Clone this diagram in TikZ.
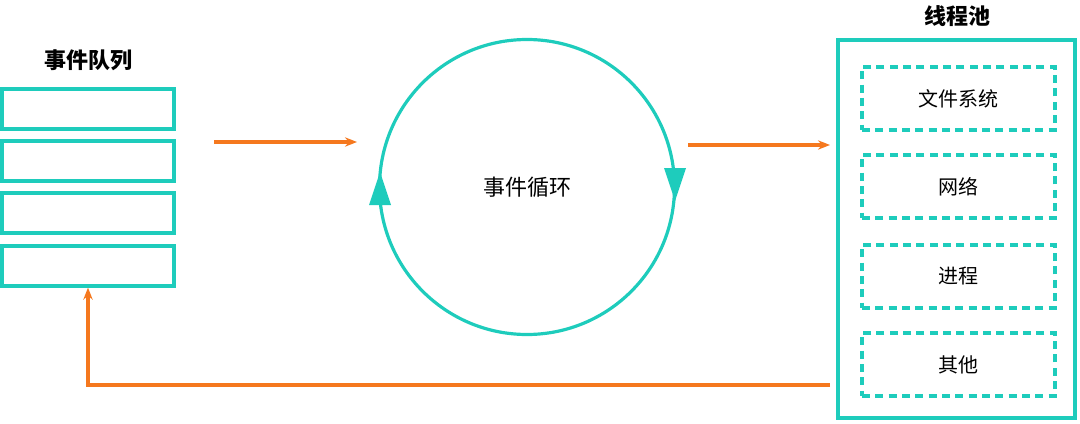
\documentclass[tikz,border=0pt]{standalone}
\usepackage{fontspec}
\setmainfont{Noto Sans CJK SC}
\usetikzlibrary{arrows.meta}
\definecolor{teal1}{RGB}{30,204,188}
\definecolor{org}{RGB}{245,120,30}
\tikzset{qbox/.style={draw=teal1,line width=3.2pt*0.75,minimum width=172*0.75pt,minimum height=40*0.75pt,inner sep=0pt},
dbox/.style={draw=teal1,line width=3.2pt*0.75,dash pattern=on 6pt off 4pt,minimum width=193*0.75pt,minimum height=63*0.75pt,inner sep=0pt,font=\fontsize{15}{18}\selectfont},
flow/.style={draw=org,line width=3.2pt*0.75,-{Stealth[length=9pt,width=7pt]}},
ttl/.style={font=\fontsize{16.5}{20}\selectfont\bfseries}}
\begin{document}
\begin{tikzpicture}[x=0.75pt,y=-0.75pt]
\useasboundingbox (0,0) rectangle (1080,424);
\node[ttl] (qt) at (88,60) {事件队列};
\node[qbox] (q1) at (88,109) {};
\node[qbox] (q2) at (88,161) {};
\node[qbox] (q3) at (88,213) {};
\node[qbox] (q4) at (88,266) {};
\coordinate (a1s) at (214,142);
\coordinate (a1e) at (357,142);
\draw[flow] (a1s) -- (a1e);
\node[circle,draw=teal1,line width=3.2pt*0.75,minimum size=295*0.75pt,font=\fontsize{16.5}{20}\selectfont] (loop) at (527,187) {事件循环};
\fill[teal1] (369,205) -- (391,205) -- (380,172) -- cycle;
\fill[teal1] (664,168) -- (686,168) -- (675,201) -- cycle;
\coordinate (a2s) at (688,145);
\coordinate (a2e) at (830,145);
\draw[flow] (a2s) -- (a2e);
\node[ttl] (pt) at (957,16) {线程池};
\node[draw=teal1,line width=3.2pt*0.75,minimum width=237*0.75pt,minimum height=378*0.75pt] (pool) at (956.5,229) {};
\node[dbox] (d1) at (958.5,98.5) {文件系统};
\node[dbox] (d2) at (958.5,186.5) {网络};
\node[dbox] (d3) at (958.5,276.5) {进程};
\node[dbox] (d4) at (958.5,364.5) {其他};
\coordinate (r1) at (830,385);
\coordinate (r2) at (88,385);
\draw[flow] (r1) -- (r2) -- (q4.south);
\end{tikzpicture}
\end{document}
